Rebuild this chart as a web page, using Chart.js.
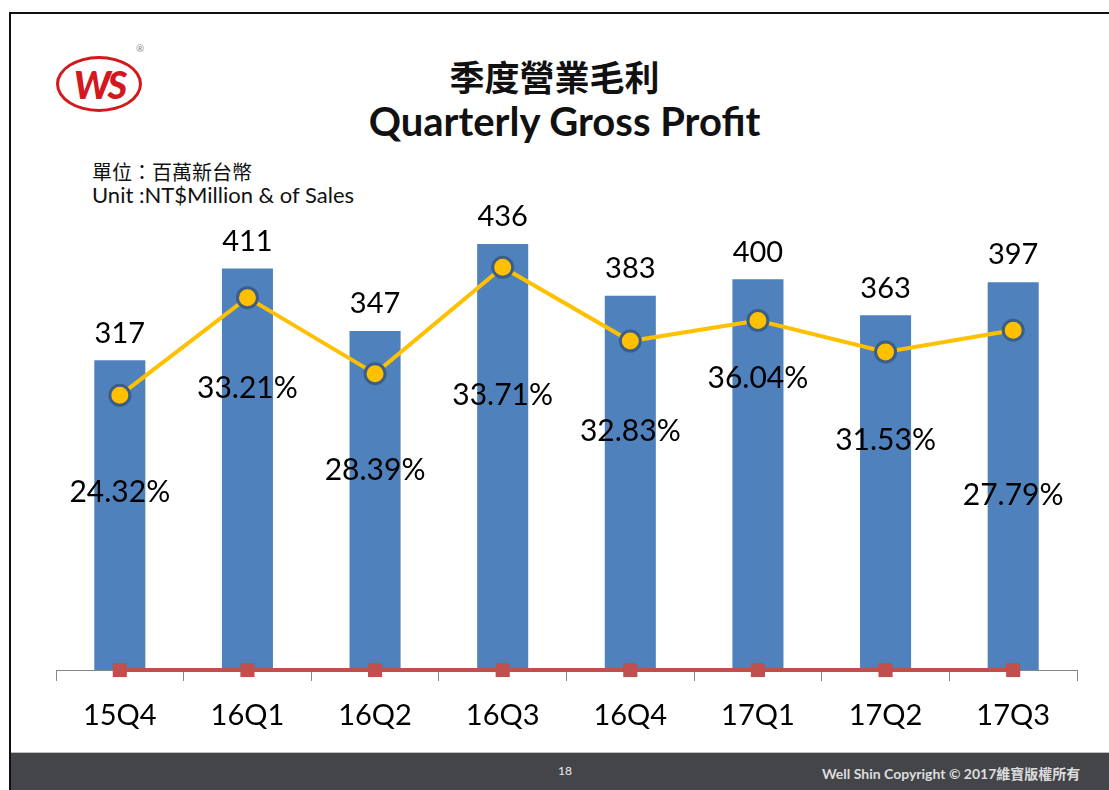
<!DOCTYPE html>
<html>
<head>
<meta charset="utf-8">
<script src="https://cdn.jsdelivr.net/npm/chart.js@4"></script>
<style>
  body { margin: 0; background: #fff; width: 1109px; height: 790px; overflow: hidden; position: relative;
         font-family: Lato, "Noto Sans CJK TC", sans-serif; }
  .frame { position: absolute; left: 9px; top: 12px; width: 1200px; height: 800px;
           border-left: 2px solid #111; border-top: 2px solid #111; }
  .logo { position: absolute; left: 56px; top: 56px; width: 80px; height: 50px; border: 3px solid #d3181e;
          border-radius: 50%; color: #d3181e; font: italic 900 38px Lato, sans-serif; text-align: center;
          line-height: 50px; letter-spacing: -3px; }
  .reg { position: absolute; left: 136px; top: 42px; font-size: 10px; color: #888; }
  .t1 { position: absolute; left: 0; width: 1109px; top: 50px; text-align: center;
        font: bold 35px "Noto Sans CJK TC", sans-serif; color: #111; }
  .t2 { position: absolute; left: 10px; width: 1109px; top: 97px; text-align: center;
        font: bold 40px Lato, sans-serif; color: #111; }
  .u1 { position: absolute; left: 92px; top: 157px; font-size: 20px; color: #111; }
  .u2 { position: absolute; left: 92px; top: 181px; font-size: 22px; color: #111; }
  .footer { position: absolute; left: 11px; top: 752px; width: 1100px; height: 38px; background: #434549;
            border-top: 1px solid #bfbfbf; }
  .pg { position: absolute; left: 558px; top: 763px; font-size: 12px; color: #eee; }
  .copy { position: absolute; left: 822px; top: 763px; font: bold 14px Lato, "Noto Sans CJK TC", sans-serif; color: #ddd; }
  #wrap { position: absolute; left: 0; top: 150px; width: 1109px; height: 600px; }
</style>
</head>
<body>
<div class="frame"></div>
<div class="logo">WS</div>
<div class="reg">®</div>
<div class="t1">季度營業毛利</div>
<div class="t2">Quarterly Gross Profit</div>
<div class="u1">單位：百萬新台幣</div>
<div class="u2">Unit :NT$Million &amp; of Sales</div>
<div id="wrap"><canvas id="chart"></canvas></div>
<div class="footer"></div>
<div class="pg">18</div>
<div class="copy">Well Shin Copyright © 2017維寶版權所有</div>

<script>
var quarters = ['15Q4', '16Q1', '16Q2', '16Q3', '16Q4', '17Q1', '17Q2', '17Q3'];
var grossProfit = [317, 411, 347, 436, 383, 400, 363, 397];
// line as plotted in the picture (secondary axis)
var marginLine = [25.3, 34.3, 27.3, 37.1, 30.3, 32.2, 29.3, 31.3];
var marginLabels = ['24.32%', '33.21%', '28.39%', '33.71%', '32.83%', '36.04%', '31.53%', '27.79%'];
var baseLine = [0, 0, 0, 0, 0, 0, 0, 0];

// label placement below each line point (px)
var pctLabelDy = [97, 91, 97, 128, 90, 58, 88, 165];

var labelPlugin = {
  id: 'labels',
  afterDatasetsDraw: function(chart) {
    var ctx = chart.ctx;
    ctx.save();
    ctx.fillStyle = '#000';
    ctx.textAlign = 'center';
    ctx.textBaseline = 'middle';
    ctx.font = '29px Lato, sans-serif';
    chart.getDatasetMeta(0).data.forEach(function(bar, i) {
      ctx.fillText(grossProfit[i], bar.x, bar.y - 27);
    });
    ctx.font = '30px Lato, sans-serif';
    chart.getDatasetMeta(2).data.forEach(function(pt, i) {
      ctx.fillText(marginLabels[i], pt.x, pt.y + pctLabelDy[i]);
    });
    ctx.restore();
  }
};

new Chart(document.getElementById('chart'), {
  type: 'bar',
  data: {
    labels: quarters,
    datasets: [
      {
        label: 'Gross Profit',
        data: grossProfit,
        backgroundColor: '#4f81bd',
        categoryPercentage: 1,
        barPercentage: 0.4,
        yAxisID: 'y',
        order: 3
      },
      {
        type: 'line',
        label: 'base',
        data: baseLine,
        borderColor: '#c0504d',
        backgroundColor: '#c0504d',
        borderWidth: 4,
        pointStyle: 'rect',
        pointRadius: 10,
        pointBorderWidth: 0,
        clip: false,
        yAxisID: 'y',
        order: 2
      },
      {
        type: 'line',
        label: 'Gross Margin',
        data: marginLine,
        borderColor: '#ffc000',
        backgroundColor: '#ffc000',
        borderWidth: 4,
        pointRadius: 10,
        pointBorderColor: '#3c5d88',
        pointBorderWidth: 3,
        clip: false,
        yAxisID: 'y2',
        order: 1
      }
    ]
  },
  options: {
    responsive: true,
    maintainAspectRatio: false,
    animation: false,
    layout: { padding: { left: 56, right: 32, top: 31.5, bottom: 0 } },
    plugins: { legend: { display: false }, tooltip: { enabled: false } },
    scales: {
      x: {
        afterFit: function(scale) { scale.height = 80; },
        grid: { offset: true, drawOnChartArea: false, tickLength: 11, color: '#868686' },
        border: { color: '#868686', width: 1 },
        ticks: { color: '#000', font: { family: 'Lato', size: 29 }, padding: 17 }
      },
      y: { display: false, min: 0, max: 500 },
      y2: { display: false, min: 0, max: 45 }
    }
  },
  plugins: [labelPlugin]
});
</script>
</body>
</html>
